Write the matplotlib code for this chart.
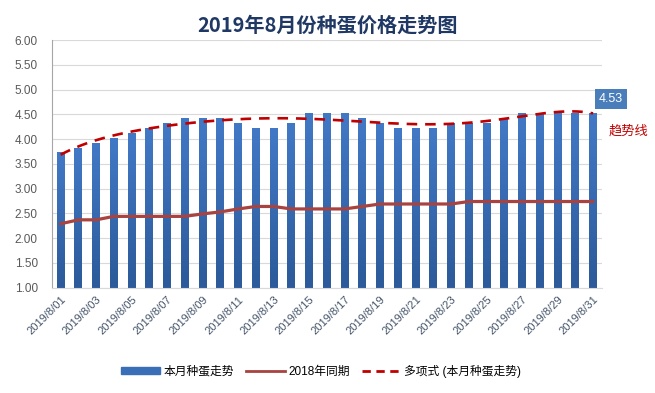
import numpy as np
import matplotlib
matplotlib.use("Agg")
import matplotlib.pyplot as plt
from matplotlib.lines import Line2D
from matplotlib.patches import Patch
from matplotlib.colors import LinearSegmentedColormap

plt.rcParams['font.family'] = ['Liberation Sans', 'Noto Sans CJK SC', 'DejaVu Sans']

days = [f"2019/8/{d:02d}" for d in range(1, 32)]
price_2019 = [3.73, 3.83, 3.93, 4.03, 4.13, 4.23, 4.33, 4.43, 4.43, 4.43,
              4.33, 4.23, 4.23, 4.33, 4.53, 4.53, 4.53, 4.43, 4.33, 4.23,
              4.23, 4.23, 4.33, 4.33, 4.33, 4.43, 4.53, 4.53, 4.53, 4.53, 4.53]
price_2018 = [2.29, 2.37, 2.37, 2.44, 2.44, 2.44, 2.44, 2.44, 2.49, 2.53,
              2.59, 2.64, 2.64, 2.59, 2.59, 2.59, 2.59, 2.64, 2.69, 2.69,
              2.69, 2.69, 2.69, 2.74, 2.74, 2.74, 2.74, 2.74, 2.74, 2.74, 2.74]
y_ticks = [1.0, 1.5, 2.0, 2.5, 3.0, 3.5, 4.0, 4.5, 5.0, 5.5, 6.0]

fig = plt.figure(figsize=(6.55, 3.93), dpi=100)
ax = fig.add_axes([0.079, 0.268, 0.840, 0.630])

x = np.arange(1, len(days) + 1)
bars = ax.bar(x, price_2019, width=0.45, bottom=0, color='#3A6FB8', zorder=2)
cmap = LinearSegmentedColormap.from_list('g', ['#2C5A9A', '#4279C6'])
grad = np.linspace(0, 1, 256).reshape(-1, 1)
for b in bars:
    xl, w, h = b.get_x(), b.get_width(), b.get_height()
    im = ax.imshow(grad, cmap=cmap, origin='lower', aspect='auto',
                   extent=[xl, xl + w, 1.0, h], zorder=2.1)
    im.set_clip_path(b)

ax.plot(x, price_2018, color='#A8433F', lw=2.3, zorder=3, solid_capstyle='round')
coef = np.polyfit(x, price_2019, 6)
xs = np.linspace(1, len(days), 200)
ax.plot(xs, np.polyval(coef, xs), color='#C00000', lw=1.9, dashes=(4, 3), zorder=4)

ax.set_xlim(0.5, len(days) + 0.5)
ax.set_ylim(1.0, 6.0)
ax.set_yticks(y_ticks)
ax.set_yticklabels([f"{v:.2f}" for v in y_ticks], color='#595959', fontsize=8.5)
ax.set_xticks(x[::2])
ax.set_xticklabels(days[::2], rotation=45, ha='right', rotation_mode='anchor',
                   color='#44546A', fontsize=8)
ax.tick_params(axis='y', length=0, pad=10)
ax.tick_params(axis='x', length=0, pad=5)
ax.grid(axis='y', color='#D9D9D9', lw=0.8, zorder=0)
ax.set_axisbelow(True)
for s in ['top', 'right']:
    ax.spines[s].set_visible(False)
ax.spines['left'].set_color('#A6A6A6')
ax.spines['bottom'].set_color('#D9D9D9')

fig.text(0.5, 0.937, "2019年8月份种蛋价格走势图", ha='center', va='center',
         fontsize=14.5, fontweight='bold', color='#203864',
         family=['Noto Sans CJK SC', 'DejaVu Sans'])

ax.annotate(f"{price_2019[-1]:.2f}", xy=(x[-1], price_2019[-1]), xytext=(13, 10),
            textcoords='offset points', ha='center', va='center', color='white',
            fontsize=9, bbox=dict(boxstyle='square,pad=0.3', fc='#4A7EBB', ec='none'))
fig.text(0.99, 0.667, "趋势线", ha='right', va='center', color='#C00000', fontsize=9.5,
         family=['Noto Sans CJK SC', 'DejaVu Sans'])

handles = [Patch(color='#3A6FB8'),
           Line2D([], [], color='#A8433F', lw=2),
           Line2D([], [], color='#C00000', lw=2, dashes=(3, 2))]
labels = ["本月种蛋走势", "2018年同期", "多项式 (本月种蛋走势)"]
fig.legend(handles, labels, loc='center', bbox_to_anchor=(0.49, 0.055), ncol=3,
           frameon=False, fontsize=8.5, handlelength=3.3, handleheight=0.5,
           columnspacing=1.0, handletextpad=0.3)

fig.savefig("out.png", dpi=100, facecolor='white')
